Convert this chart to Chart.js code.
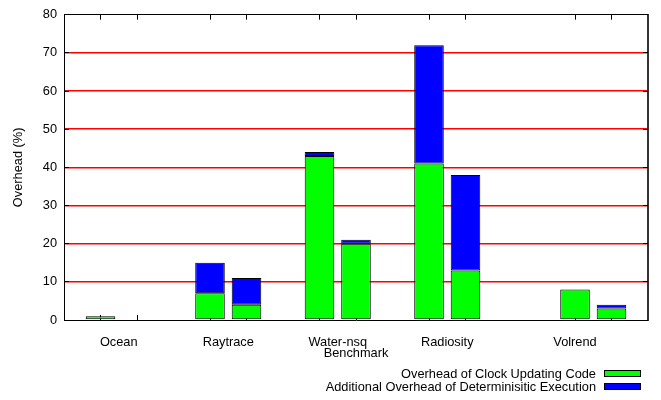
<!DOCTYPE html>
<html><head><meta charset="utf-8">
<script src="https://cdn.jsdelivr.net/npm/chart.js@4"></script>
<style>
html,body{margin:0;padding:0;background:#fff;}
#wrap{position:relative;width:661px;height:400px;overflow:hidden;}
canvas{position:absolute;left:0;top:0;}
#legend{position:absolute;right:20px;top:367px;font:12.8px 'Liberation Sans',Arial,sans-serif;color:#000;}
.row{display:flex;justify-content:flex-end;align-items:center;height:13px;white-space:nowrap;}
.box{box-sizing:border-box;width:37px;height:7px;border:1px solid #000;margin-left:8px;}
</style></head>
<body><div id="wrap"><canvas id="c" width="661" height="400"></canvas><div id="legend"></div></div>
<script>
// ---- data ----
const benchmarks   = ['Ocean', 'Raytrace', 'Water-nsq', 'Radiosity', 'Volrend'];
const clockFirst   = [1, 7, 43, 41, 8];   // green, first bar of each benchmark
const clockSecond  = [0, 4, 20, 13, 3];   // green, second bar
const extraFirst   = [0, 8, 1, 31, 0];    // blue, first bar
const extraSecond  = [0, 7, 1, 25, 1];    // blue, second bar
const seriesNames  = ['Overhead of Clock Updating Code', 'Additional Overhead of Determinisitic Execution'];
const yTickValues  = [0, 10, 20, 30, 40, 50, 60, 70, 80];

// ---- layout (axis coordinates of the original plot) ----
const barSlots = [[0, 1], [3, 4], [6, 7], [9, 10], [13, 14]];
const labelAt  = [0.5, 3.5, 6.5, 9.5, 13];
const FONT = "'Liberation Sans', Arial, Helvetica, sans-serif";
const FS = 12.8;

function points(first, second) {
  const out = [];
  benchmarks.forEach((_, i) => {
    out.push({x: barSlots[i][0], y: first[i]});
    out.push({x: barSlots[i][1], y: second[i]});
  });
  return out;
}

Chart.defaults.color = '#000';
Chart.defaults.font.family = FONT;
Chart.defaults.font.size = FS;

const innerTicks = {
  id: 'innerTicks',
  beforeDatasetsDraw(chart) {
    const {ctx, chartArea: a, scales: {x, y}} = chart;
    const len = 5;
    const al = p => Math.round(p - 0.5) + 0.5;
    ctx.save();
    ctx.strokeStyle = '#000';
    ctx.lineWidth = 1;
    barSlots.flat().forEach(v => {
      const px = al(x.getPixelForValue(v));
      ctx.beginPath();
      ctx.moveTo(px, a.bottom); ctx.lineTo(px, a.bottom - len);
      ctx.moveTo(px, a.top); ctx.lineTo(px, a.top + len);
      ctx.stroke();
    });
    y.ticks.forEach(t => {
      const py = al(y.getPixelForValue(t.value));
      ctx.beginPath();
      ctx.moveTo(a.left, py); ctx.lineTo(a.left + len, py);
      ctx.moveTo(a.right, py); ctx.lineTo(a.right - len, py);
      ctx.stroke();
    });
    ctx.restore();
  }
};

const gridColors = yTickValues.map((v, i) => (i === 0 || i === yTickValues.length - 1) ? 'rgba(0,0,0,0)' : '#ff0000');

const chart = new Chart(document.getElementById('c'), {
  type: 'bar',
  data: {
    datasets: [
      {label: seriesNames[0], data: points(clockFirst, clockSecond), backgroundColor: '#00ff00',
       borderColor: '#000', borderWidth: 1, borderSkipped: false},
      {label: seriesNames[1], data: points(extraFirst, extraSecond), backgroundColor: '#0000ff',
       borderColor: '#000', borderWidth: 1, borderSkipped: false}
    ]
  },
  options: {
    responsive: false,
    animation: false,
    devicePixelRatio: 1,
    layout: {padding: 0},
    datasets: {bar: {barPercentage: 0.81, categoryPercentage: 1}},
    plugins: {legend: {display: false}, tooltip: {enabled: false}},
    scales: {
      x: {
        type: 'linear', position: 'bottom', min: -1, max: 15, stacked: true, offset: false,
        grid: {display: false, drawTicks: false, offset: false},
        border: {display: true, color: '#000', width: 1},
        ticks: {autoSkip: false, maxRotation: 0, padding: 15, callback: (v, i) => benchmarks[i]},
        afterBuildTicks: s => { s.ticks = labelAt.map(v => ({value: v})); },
        afterFit: s => { s.height = 80; },
        title: {display: true, text: 'Benchmark', padding: {top: 0, bottom: 39}}
      },
      x2: {
        type: 'linear', position: 'top', min: -1, max: 15, offset: false,
        grid: {display: false, drawTicks: false},
        border: {display: true, color: '#000', width: 1},
        ticks: {display: false},
        afterFit: s => { s.height = 6; }
      },
      y: {
        type: 'linear', position: 'left', min: yTickValues[0], max: yTickValues[yTickValues.length - 1], stacked: true,
        ticks: {stepSize: yTickValues[1] - yTickValues[0], padding: 7},
        grid: {drawTicks: false, lineWidth: 1.5, color: gridColors},
        border: {display: true, color: '#000', width: 1},
        title: {display: true, text: 'Overhead (%)', padding: {top: 11, bottom: 0}},
        afterFit: s => { s.width = 64; }
      },
      y2: {
        type: 'linear', position: 'right', min: yTickValues[0], max: yTickValues[yTickValues.length - 1],
        grid: {display: false, drawTicks: false},
        border: {display: true, color: '#333', width: 2},
        ticks: {display: false},
        afterFit: s => { s.width = 13; }
      }
    }
  },
  plugins: [innerTicks]
});

// legend (text right-aligned, sample box to the right), built from the datasets
const legend = document.getElementById('legend');
chart.data.datasets.forEach(ds => {
  const row = document.createElement('div');
  row.className = 'row';
  const t = document.createElement('span');
  t.textContent = ds.label;
  const b = document.createElement('span');
  b.className = 'box';
  b.style.background = ds.backgroundColor;
  row.appendChild(t); row.appendChild(b);
  legend.appendChild(row);
});
</script>
</body></html>
